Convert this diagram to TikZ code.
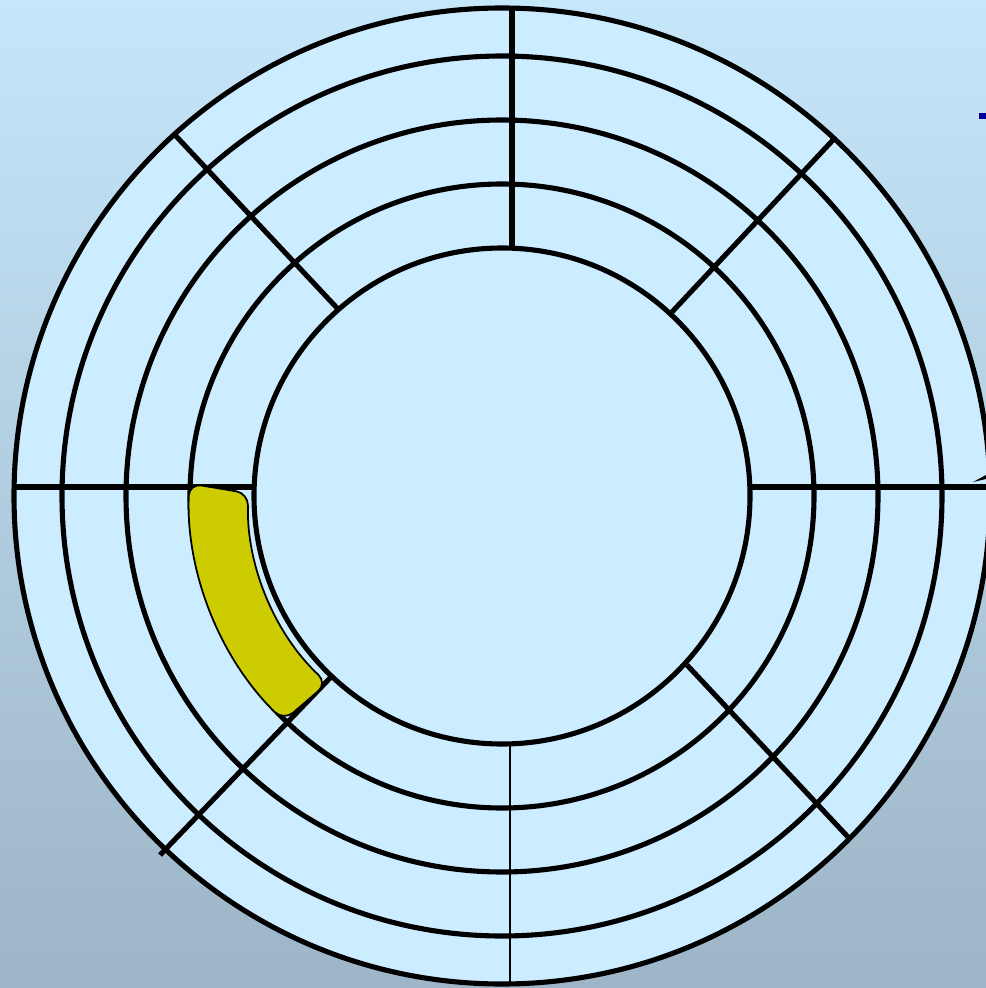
\documentclass[tikz,border=0pt]{standalone}
\usepackage{xcolor}
\usepackage{tikz}
\usetikzlibrary{calc}

\definecolor{bgtop}{HTML}{C6E6FA}
\definecolor{bgbottom}{HTML}{9DB5C6}
\definecolor{platter}{HTML}{CCECFF}
\definecolor{sectorfill}{HTML}{CCCC00}
\definecolor{markblue}{HTML}{000099}

\begin{document}
\begin{tikzpicture}[
    x=0.01cm, y=-0.01cm,
    track/.style={draw=black, line width=1.45pt},
    spoke/.style={draw=black, line width=1.45pt},
    thinspoke/.style={draw=black, line width=0.6pt},
    sectorblob/.style={fill=sectorfill, draw=black, line width=0.5pt, rounded corners=3.5pt}
]

% Background
\useasboundingbox (0,0) rectangle (986,988);
\shade[top color=bgtop, bottom color=bgbottom] (0,0) rectangle (986,988);
\clip (0,0) rectangle (986,988);

\coordinate (c) at (502,496);

% Platter and tracks
\fill[platter] (c) circle (488);
\foreach \r in {488,440,376,312,248}
    \draw[track] (c) circle (\r);

% Sector boundaries
\draw[spoke] (14,487) -- (256,487);
\draw[spoke] (750,487) -- (990,487);
\draw[spoke] (512,8) -- (512,248);
\draw[thinspoke] (510,745) -- (510,986);
\draw[spoke] (175,135) -- (337,308);
\draw[spoke] (833,140) -- (672,312);
\draw[spoke] (687,665) -- (848,837);
\draw[spoke] (331,677) -- (160,855);

% Highlighted sector (y axis points down, so angles run clockwise)
\draw[sectorblob] ($(c)+(182.3:313)$) arc[start angle=182.3, end angle=134.3, radius=314]
    -- ($(c)+(133.0:256)$) arc[start angle=133.0, end angle=181.8, radius=249] -- cycle;

% Cut-off marks at the right edge
\fill[markblue] (979,113) rectangle (986,119);
\fill[black] (973,482) -- (986,475) -- (986,479) -- cycle;

\end{tikzpicture}
\end{document}
